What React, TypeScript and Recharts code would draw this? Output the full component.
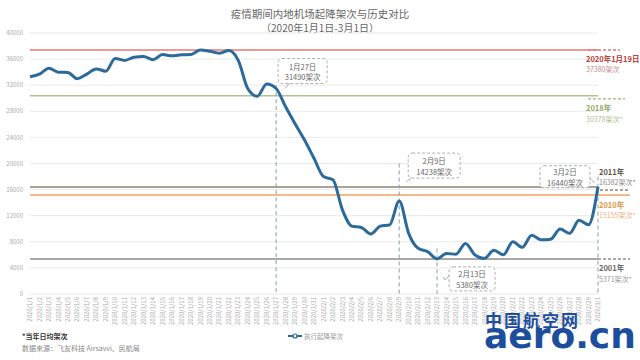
import React from 'react';
import {
  LineChart, Line, XAxis, YAxis, CartesianGrid, ReferenceLine, ReferenceDot,
} from 'recharts';

const days = [
  '2020/1/1', '2020/1/2', '2020/1/3', '2020/1/4', '2020/1/5', '2020/1/6', '2020/1/7', '2020/1/8',
  '2020/1/9', '2020/1/10', '2020/1/11', '2020/1/12', '2020/1/13', '2020/1/14', '2020/1/15',
  '2020/1/16', '2020/1/17', '2020/1/18', '2020/1/19', '2020/1/20', '2020/1/21', '2020/1/22',
  '2020/1/23', '2020/1/24', '2020/1/25', '2020/1/26', '2020/1/27', '2020/1/28', '2020/1/29',
  '2020/1/30', '2020/1/31', '2020/2/1', '2020/2/2', '2020/2/3', '2020/2/4', '2020/2/5',
  '2020/2/6', '2020/2/7', '2020/2/8', '2020/2/9', '2020/2/10', '2020/2/11', '2020/2/12',
  '2020/2/13', '2020/2/14', '2020/2/15', '2020/2/16', '2020/2/17', '2020/2/18', '2020/2/19',
  '2020/2/20', '2020/2/21', '2020/2/22', '2020/2/23', '2020/2/24', '2020/2/25', '2020/2/26',
  '2020/2/27', '2020/2/28', '2020/2/29', '2020/3/1',
];

const flights = [
  33300, 33700, 34600, 34000, 33950, 33000, 33700, 34500, 34150, 36100,
  35800, 36300, 36400, 35900, 36700, 36500, 36650, 36700, 37380, 37200,
  36900, 37300, 35800, 31500, 30300, 32200, 31490, 28700, 26100, 23600,
  20800, 18000, 17500, 12900, 10400, 10200, 9200, 10400, 10600, 14238,
  9300, 7000, 6500, 5380, 6200, 6100, 7750, 6000, 5450, 6700,
  6000, 8000, 7150, 9000, 8300, 8400, 9950, 9300, 11300, 10600,
  16440,
];

const yTicks = [0, 4000, 8000, 12000, 16000, 20000, 24000, 28000, 32000, 36000, 40000];

// historical daily averages
const benchValues = [37380, 30378, 16382, 15155, 5371];
const benchTitles = ['2020年1月19日', '2018年', '2011年', '2010年', '2001年'];
const benchSubs = ['37380架次', '30378架次*', '16382架次*', '15155架次*', '5371架次*'];

// callouts
const calloutDays = ['2020/1/27', '2020/2/9', '2020/2/13', '2020/3/1'];
const calloutValues = [31490, 14238, 5380, 16440];
const calloutDates = ['1月27日', '2月9日', '2月13日', '3月2日'];
const calloutTexts = ['31490架次', '14238架次', '5380架次', '16440架次'];
const guideTops = [32000, 20000, 7000, 18000];

const data = days.map((day, i) => ({ day, flights: flights[i] }));

const FONT = '"Noto Sans CJK SC", "Noto Sans", sans-serif';
const BLUE = '#2b6a9b';

const benchStyle = [
  { line: '#e47875', title: '#b8403c', sub: '#c98a87', tx: -12, ty: 8, sy: 19, ex: [-10, 22], ey: 0, dash: '3 2' },
  { line: '#adc392', title: '#8fab6c', sub: '#a9bf8f', tx: -12, ty: 12, sy: 23, ex: [-10, 27], ey: 3, dash: '3 2' },
  { line: '#8e8470', title: '#5f5444', sub: '#8a8a8a', tx: 1, ty: -16, sy: -5, ex: [2, 32], ey: 3, dash: '3 2' },
  { line: '#f0a262', title: '#e39549', sub: '#ebb27e', tx: 1, ty: 9, sy: 20, ex: [0, 32], ey: 0, dash: undefined },
  { line: '#8c8c8c', title: '#666', sub: '#999', tx: 1, ty: 9, sy: 20, ex: [0, 32], ey: 0, dash: '3 2' },
];

const calloutBox = [
  { dx: 2, dy: -30, w: 49, h: 25, tail: 'M13 -5 L9 0' },
  { dx: 9, dy: -48, w: 52, h: 25, tail: 'M12 -23 L7 -19' },
  { dx: 12, dy: 8, w: 46, h: 24, tail: 'M12 17 L8 21 L6 18' },
  { dx: -58, dy: -21, w: 50, h: 22, tail: 'M-8 -8 L-3 -4' },
];

const BenchLabel = ({ viewBox, idx }: any) => {
  const s = benchStyle[idx];
  const right = viewBox.x + viewBox.width;
  const y = viewBox.y;
  return (
    <g>
      <line x1={right + s.ex[0]} x2={right + s.ex[1]} y1={y + s.ey} y2={y + s.ey}
        stroke={s.line} strokeWidth={1.5} strokeDasharray={s.dash} />
      <text x={right + s.tx} y={y + s.ty} dominantBaseline="central" fontSize={7.5}
        fontWeight="bold" fill={s.title} fontFamily={FONT}>{benchTitles[idx]}</text>
      <text x={right + s.tx} y={y + s.sy} dominantBaseline="central" fontSize={7}
        fill={s.sub} fontFamily={FONT}>{benchSubs[idx]}</text>
    </g>
  );
};

const Callout = ({ cx, cy, idx }: any) => {
  const b = calloutBox[idx];
  const bx = cx + b.dx;
  const by = cy + b.dy;
  return (
    <g>
      <rect x={bx} y={by} width={b.w} height={b.h} rx={4} fill="#fff"
        stroke="#9a9a9a" strokeDasharray="3 2" strokeWidth={0.8} />
      <path d={b.tail} transform={`translate(${cx},${cy})`} fill="none"
        stroke="#9a9a9a" strokeWidth={0.8} />
      <text x={bx + b.w / 2} y={by + b.h / 2 - 5} textAnchor="middle" dominantBaseline="central"
        fontSize={7.5} fill="#666" fontFamily={FONT}>{calloutDates[idx]}</text>
      <text x={bx + b.w / 2} y={by + b.h / 2 + 5.5} textAnchor="middle" dominantBaseline="central"
        fontSize={7.5} fill="#666" fontFamily={FONT}>{calloutTexts[idx]}</text>
    </g>
  );
};

const DayTick = ({ x, y, payload }: any) => (
  <g transform={`translate(${x},${y})`}>
    <text transform="rotate(-90)" x={-1} y={0} dy="0.35em" textAnchor="end"
      fontSize={6} fill="#aaa" fontFamily={FONT}>{payload.value}</text>
  </g>
);

export default function App() {
  return (
    <div style={{ position: 'relative', width: 640, height: 360, background: '#fff', fontFamily: FONT }}>
      <style>{'body{margin:0}'}</style>
      <div style={{ position: 'absolute', top: 7, left: 0, width: 640, textAlign: 'center', fontSize: 10.5, color: '#666', lineHeight: '14px' }}>
        疫情期间内地机场起降架次与历史对比
      </div>
      <div style={{ position: 'absolute', top: 21, left: 0, width: 640, textAlign: 'center', fontSize: 10, color: '#666', lineHeight: '14px' }}>
        （2020年1月1日-3月1日）
      </div>
      <LineChart width={640} height={360} data={data} margin={{ top: 33, right: 42, bottom: 0, left: 0 }}>
        <CartesianGrid vertical={false} stroke="#e9e9e9" />
        <XAxis dataKey="day" interval={0} height={66} tick={<DayTick />} tickLine={false}
          axisLine={false} tickSize={0} tickMargin={2} />
        <YAxis domain={[0, 40000]} ticks={yTicks} width={30} tickLine={false} axisLine={false}
          tickSize={0} tickMargin={7} tick={{ fontSize: 6, fill: '#aaa', fontFamily: FONT }} />
        {benchValues.map((v, i) => (
          <ReferenceLine key={`b${i}`} y={v} stroke={benchStyle[i].line} strokeWidth={1.5}
            label={(p: any) => <BenchLabel {...p} idx={i} />} />
        ))}
        {calloutDays.map((d, i) => (
          <ReferenceLine key={`g${i}`} segment={[{ x: d, y: guideTops[i] }, { x: d, y: 0 }]}
            stroke="#8a9fb0" strokeDasharray="4 3" strokeWidth={1} />
        ))}
        <Line type="monotone" dataKey="flights" name="执行起降架次" stroke={BLUE} strokeWidth={3}
          dot={false} isAnimationActive={false} />
        {calloutDays.map((d, i) => (
          <ReferenceDot key={`c${i}`} x={d} y={calloutValues[i]} r={0}
            shape={(p: any) => <Callout {...p} idx={i} />} />
        ))}
      </LineChart>
      <svg width={640} height={360} style={{ position: 'absolute', left: 0, top: 0, pointerEvents: 'none' }}>
        <text x={22} y={336} dominantBaseline="central" fontSize={7} fontWeight="bold" fill="#333" fontFamily={FONT}>*当年日均架次</text>
        <text x={22} y={348} dominantBaseline="central" fontSize={7} fill="#888" fontFamily={FONT}>数据来源：飞友科技 Airsavvi、民航局</text>
        <line x1={288} x2={302} y1={336} y2={336} stroke={BLUE} strokeWidth={2} />
        <circle cx={295} cy={336} r={2} fill="#fff" stroke={BLUE} strokeWidth={1.2} />
        <text x={304} y={336} dominantBaseline="central" fontSize={6.5} fill="#999" fontFamily={FONT}>执行起降架次</text>
        <text x={485} y={327} fontSize={17} fontWeight="bold" fill="#1d4e9e" letterSpacing={2} fontFamily={FONT}>中国航空网</text>
        <text x={484} y={348} fontSize={36} fontWeight="bold" fill="#1d4e9e" fontFamily='"DejaVu Sans", sans-serif'>aero.cn</text>
      </svg>
    </div>
  );
}
